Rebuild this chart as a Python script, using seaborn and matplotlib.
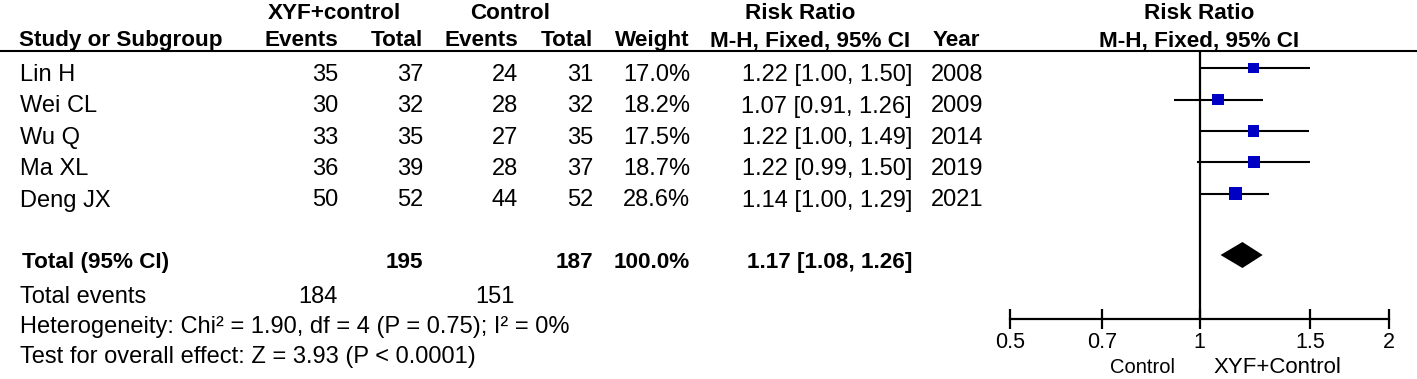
import matplotlib
matplotlib.use("Agg")
import matplotlib.pyplot as plt
import seaborn as sns
import pandas as pd
import numpy as np

# ---------------- data ----------------
studies = ["Lin H", "Wei CL", "Wu Q", "Ma XL", "Deng JX"]
xyf_events = [35, 30, 33, 36, 50]
xyf_total = [37, 32, 35, 39, 52]
ctl_events = [24, 28, 27, 28, 44]
ctl_total = [31, 32, 35, 37, 52]
weights = [17.0, 18.2, 17.5, 18.7, 28.6]
rr = [1.22, 1.07, 1.22, 1.22, 1.14]
ci_low = [1.00, 0.91, 1.00, 0.99, 1.00]
ci_high = [1.50, 1.26, 1.49, 1.50, 1.29]
years = [2008, 2009, 2014, 2019, 2021]

total_xyf = 195
total_ctl = 187
total_weight = "100.0%"
pooled_rr = 1.17
pooled_low = 1.08
pooled_high = 1.26
events_xyf = 184
events_ctl = 151
heterogeneity = "Heterogeneity: Chi\u00b2 = 1.90, df = 4 (P = 0.75); I\u00b2 = 0%"
overall = "Test for overall effect: Z = 3.93 (P < 0.0001)"
xticks = [0.5, 0.7, 1, 1.5, 2]
xticklabels = ["0.5", "0.7", "1", "1.5", "2"]

# ---------------- style ----------------
sns.set_theme(style="white")
plt.rcParams["font.family"] = ["Liberation Sans", "DejaVu Sans"]
FS = 17
FSB = 16.2

W, H = 1417, 379
fig = plt.figure(figsize=(W / 100, H / 100), dpi=100)

# text layer in pixel coordinates
ax = fig.add_axes([0, 0, 1, 1])
ax.set_xlim(0, W)
ax.set_ylim(H, 0)
ax.axis("off")

def t(x, y, s, ha="left", bold=False, size=None):
    if size is None:
        size = FSB if bold else FS
    ax.text(x, y, s, ha=ha, va="baseline", fontsize=size,
            fontweight="bold" if bold else "normal", color="black")

# header
hb1, hb2 = 19, 46
t(334, hb1, "XYF+control", ha="center", bold=True)
t(510, hb1, "Control", ha="center", bold=True)
t(800, hb1, "Risk Ratio", ha="center", bold=True)
t(1199, hb1, "Risk Ratio", ha="center", bold=True)
t(19, hb2, "Study or Subgroup", bold=True)
t(338, hb2, "Events", ha="right", bold=True)
t(423, hb2, "Total", ha="right", bold=True)
t(518, hb2, "Events", ha="right", bold=True)
t(593, hb2, "Total", ha="right", bold=True)
t(690, hb2, "Weight", ha="right", bold=True)
t(810, hb2, "M-H, Fixed, 95% CI", ha="center", bold=True)
t(933, hb2, "Year", bold=True)
t(1199, hb2, "M-H, Fixed, 95% CI", ha="center", bold=True)
ax.plot([0, W], [51, 51], color="black", lw=1.5, solid_capstyle="butt")

# study rows
row_y = [68, 99.5, 131, 162, 193.5]
for i, name in enumerate(studies):
    b = row_y[i] + 13
    t(20, b, name)
    t(338, b, str(xyf_events[i]), ha="right")
    t(423, b, str(xyf_total[i]), ha="right")
    t(518, b, str(ctl_events[i]), ha="right")
    t(593, b, str(ctl_total[i]), ha="right")
    t(690, b, f"{weights[i]:.1f}%", ha="right")
    t(912, b, f"{rr[i]:.2f} [{ci_low[i]:.2f}, {ci_high[i]:.2f}]", ha="right")
    t(931, b, str(years[i]))

# totals
tot_y = 255
tb = tot_y + 13
t(22, tb, "Total (95% CI)", bold=True)
t(423, tb, str(total_xyf), ha="right", bold=True)
t(593, tb, str(total_ctl), ha="right", bold=True)
t(690, tb, total_weight, ha="right", bold=True)
t(912, tb, f"{pooled_rr:.2f} [{pooled_low:.2f}, {pooled_high:.2f}]", ha="right", bold=True)
t(20, 303, "Total events")
t(338, 303, str(events_xyf), ha="right")
t(515, 303, str(events_ctl), ha="right")
t(20, 333, heterogeneity)
t(20, 363, overall)

# ---------------- forest panel ----------------
x0, x1, ytop, ybot = 1010, 1389, 51, 319
fax = fig.add_axes([x0 / W, (H - ybot) / H, (x1 - x0) / W, (ybot - ytop) / H])
fax.set_xscale("log")
fax.set_xlim(0.5, 2)
fax.set_ylim(ybot, ytop)
fax.patch.set_alpha(0)
for s in ["top", "right", "left"]:
    fax.spines[s].set_visible(False)
fax.spines["bottom"].set_linewidth(1.6)
fax.spines["bottom"].set_color("black")
fax.set_xticks(xticks)
fax.set_xticklabels(xticklabels)
fax.xaxis.set_minor_locator(matplotlib.ticker.NullLocator())
fax.tick_params(axis="x", which="major", direction="inout", length=15, width=1.6,
                pad=2, labelsize=15.5, colors="black", labelcolor="black", bottom=True)
fax.set_yticks([])
fax.axvline(1, color="black", lw=1.6)

# CI lines
fax.hlines(row_y, ci_low, ci_high, color="black", lw=1.5)

df = pd.DataFrame({"rr": rr, "y": row_y, "w": weights})
sns.scatterplot(data=df, x="rr", y="y", size="w", sizes=(62, 92), marker="s",
                color="#0000C4", linewidth=0, legend=False, ax=fax, zorder=3)
fax.set_xlabel("")
fax.set_ylabel("")

# pooled diamond
fax.fill([pooled_low, pooled_rr, pooled_high, pooled_rr],
         [tot_y, tot_y - 13, tot_y, tot_y + 13], color="black", lw=0, zorder=3)

# favours labels
ax.text(1175, 373, "Control", ha="right", va="baseline", fontsize=14.5, color="black")
ax.text(1213, 373, "XYF+Control", ha="left", va="baseline", fontsize=16, color="black")

fig.savefig("out.png", dpi=100)
